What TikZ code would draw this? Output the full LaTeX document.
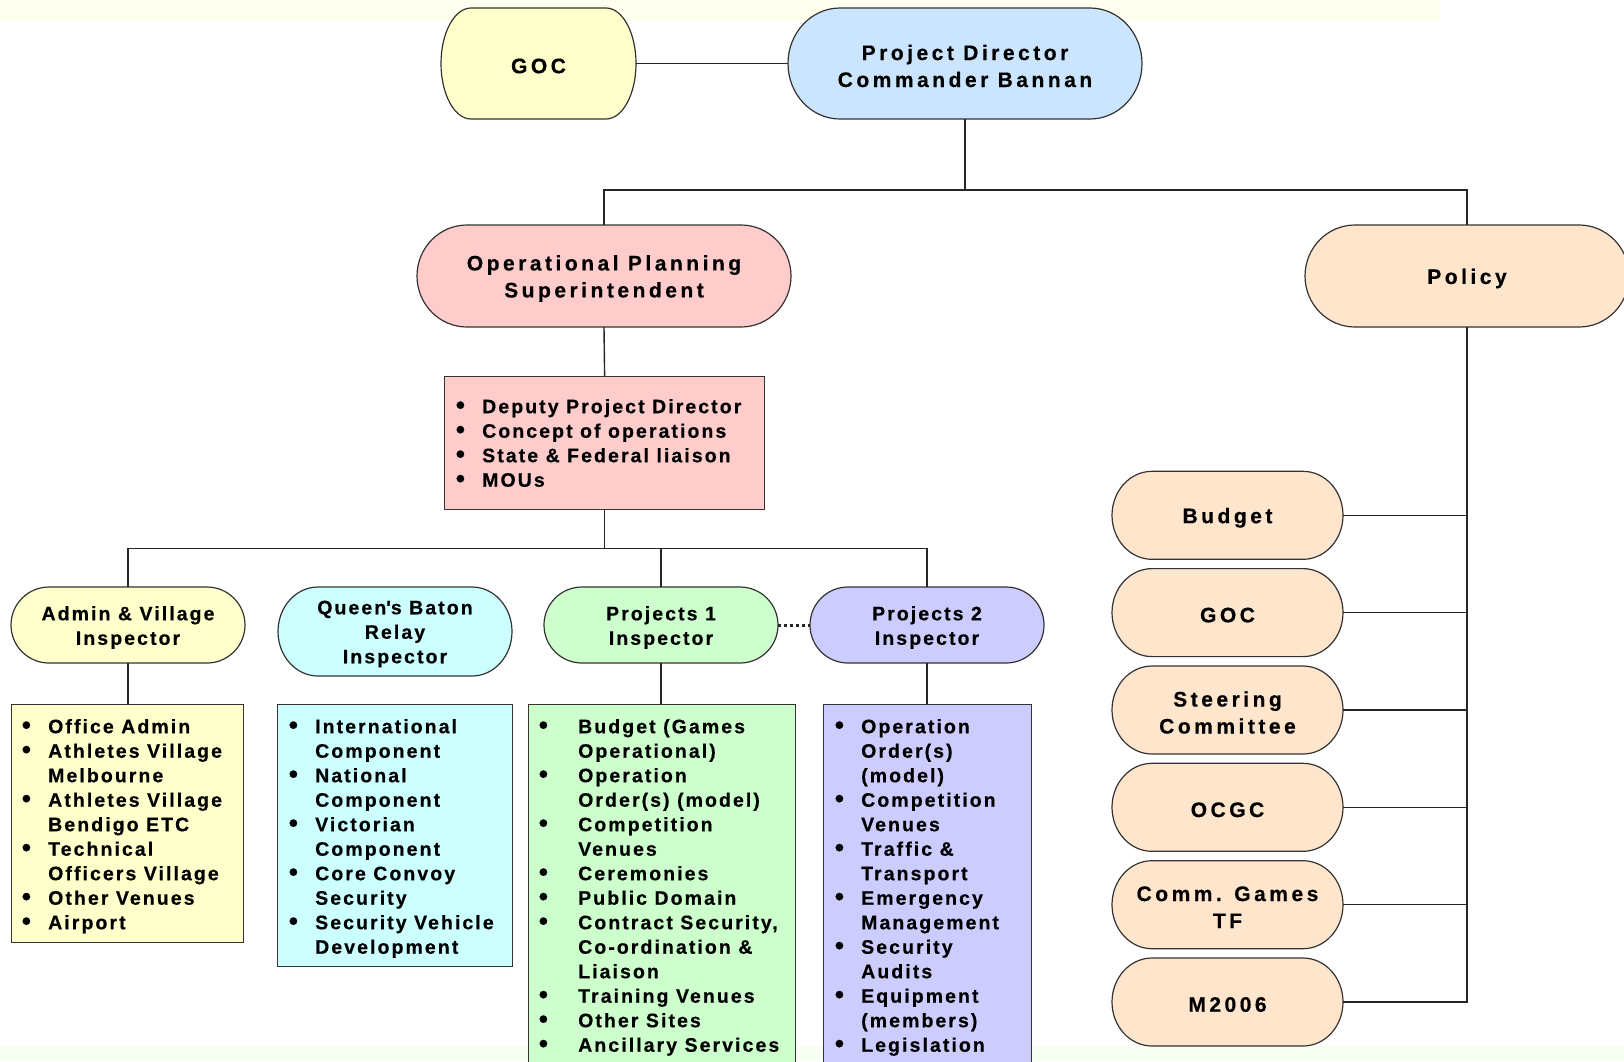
\documentclass[tikz,border=0pt]{standalone}
\usepackage{fontspec}
\usepackage{graphicx}
\setmainfont{Liberation Sans}
\newfontfamily\bigsp[LetterSpace=16.7, BoldFeatures={FakeBold=0.5}]{Liberation Sans}
\newfontfamily\smsp[LetterSpace=10.6, BoldFeatures={FakeBold=0.5}]{Liberation Sans}
\usetikzlibrary{calc}
\definecolor{cyel}{HTML}{FFFFCC}
\definecolor{cblue}{HTML}{CCE5FF}
\definecolor{cpink}{HTML}{FFCCCC}
\definecolor{cpeach}{HTML}{FFE5CC}
\definecolor{ccyan}{HTML}{CCFFFF}
\definecolor{cgreen}{HTML}{CCFFCC}
\definecolor{clav}{HTML}{CCCCFF}
\definecolor{bgtop}{HTML}{FFFFF0}
\definecolor{bgbot}{HTML}{F6FFF2}
\tikzset{
  conn/.style={line width=1.4pt, draw=black!85},
  dotconn/.style={line width=3pt, draw=black!85, dash pattern=on 3pt off 3pt},
  shapeline/.style={line width=1.2pt, draw=black!80},
  bigtxt/.style={font=\bigsp\bfseries\fontsize{21}{27}\selectfont, align=center, text=black},
  smtxt/.style={font=\smsp\bfseries\fontsize{19.5}{24.5}\selectfont, align=center, text=black},
  listtxt/.style={font=\smsp\bfseries\fontsize{19.5}{24.5}\selectfont, align=left, inner sep=0pt, anchor=north west, text=black},
  listbox/.style={draw=black!80, line width=1.2pt, anchor=north west, inner sep=0pt},
}
% #1 name, #2 cx, #3 cy, #4 w, #5 h, #6 rx, #7 fill, #8 text style, #9 text
\newcommand{\pill}[9]{%
  \filldraw[shapeline, fill=#7] (#2-#4/2+#6,#3+#5/2) -- (#2+#4/2-#6,#3+#5/2)
    arc[start angle=90, end angle=-90, x radius=#6, y radius=#5/2]
    -- (#2-#4/2+#6,#3-#5/2)
    arc[start angle=270, end angle=90, x radius=#6, y radius=#5/2] -- cycle;
  \node[minimum width=#4, minimum height=#5, inner sep=0pt] (#1) at (#2,#3) {};
  \node[#8, inner sep=0pt, yshift=-2.5pt] (#1t) at (#1.center) {#9};
}
\newcommand{\bdot}{\raisebox{-0.6pt}{\scalebox{1.35}{\textbullet}}}
\newcommand{\bl}[1]{\rule{0pt}{15pt}\makebox[#1][l]{\bdot}}
\newcommand{\bk}[1]{\makebox[#1][l]{\bdot}}
\newcommand{\cl}[1]{\hspace*{#1}}
\begin{document}
\begin{tikzpicture}[x=1pt,y=1pt]
\useasboundingbox (0,0) rectangle (1624,-1061);
\fill[white] (0,0) rectangle (1624,-1061);
\fill[bgtop] (0,0) rectangle (1440,-21);
\fill[bgbot] (0,-1046) rectangle (1624,-1061);

% top level
\pill{goc}{538.5}{-63.5}{195}{111}{30}{cyel}{bigtxt}{GOC}
\pill{pd}{965}{-63.5}{354}{111}{52}{cblue}{bigtxt}{Project Director\\Commander Bannan}
\pill{ops}{604}{-276}{374}{102}{50}{cpink}{bigtxt}{Operational Planning\\Superintendent}
\pill{policy}{1467}{-276}{324}{102}{50}{cpeach}{bigtxt}{Policy}

% deputy box
\node[listbox, fill=cpink, minimum width=320, minimum height=133] (dep) at (444,-376) {};
\node[listtxt] (deptxt) at (455.6,-398) {\bl{26.4pt}Deputy Project Director\\\bk{26.4pt}Concept of operations\\\bk{26.4pt}State \& Federal liaison\\\bk{26.4pt}MOUs};

% inspectors
\pill{admin}{128}{-625}{234}{76}{38}{cyel}{smtxt}{Admin \& Village\\Inspector}
\pill{queen}{395}{-631.5}{234}{89}{40}{ccyan}{smtxt}{Queen\textquotesingle s Baton\\Relay\\Inspector}
\pill{proj1}{661}{-625}{234}{76}{38}{cgreen}{smtxt}{Projects 1\\Inspector}
\pill{proj2}{927}{-625}{234}{76}{38}{clav}{smtxt}{Projects 2\\Inspector}

% lists
\node[listbox, fill=cyel, minimum width=232, minimum height=238] (adminbox) at (11,-704) {};
\node[listtxt] (admintxt) at (21.6,-718) {\bl{26.4pt}Office Admin\\\bk{26.4pt}Athletes Village\\\cl{26.4pt}Melbourne\\\bk{26.4pt}Athletes Village\\\cl{26.4pt}Bendigo ETC\\\bk{26.4pt}Technical\\\cl{26.4pt}Officers Village\\\bk{26.4pt}Other Venues\\\bk{26.4pt}Airport};

\node[listbox, fill=ccyan, minimum width=235, minimum height=262] (queenbox) at (277,-704) {};
\node[listtxt] (queentxt) at (288.6,-718) {\bl{26.4pt}International\\\cl{26.4pt}Component\\\bk{26.4pt}National\\\cl{26.4pt}Component\\\bk{26.4pt}Victorian\\\cl{26.4pt}Component\\\bk{26.4pt}Core Convoy\\\cl{26.4pt}Security\\\bk{26.4pt}Security Vehicle\\\cl{26.4pt}Development};

\node[listbox, fill=cgreen, minimum width=267, minimum height=400] (proj1box) at (528,-704) {};
\node[listtxt] (proj1txt) at (538.6,-718) {\bl{39.4pt}Budget (Games\\\cl{39.4pt}Operational)\\\bk{39.4pt}Operation\\\cl{39.4pt}Order(s) (model)\\\bk{39.4pt}Competition\\\cl{39.4pt}Venues\\\bk{39.4pt}Ceremonies\\\bk{39.4pt}Public Domain\\\bk{39.4pt}Contract Security,\\\cl{39.4pt}Co-ordination \&\\\cl{39.4pt}Liaison\\\bk{39.4pt}Training Venues\\\bk{39.4pt}Other Sites\\\bk{39.4pt}Ancillary Services};

\node[listbox, fill=clav, minimum width=208, minimum height=400] (proj2box) at (823,-704) {};
\node[listtxt] (proj2txt) at (834.6,-718) {\bl{26.4pt}Operation\\\cl{26.4pt}Order(s)\\\cl{26.4pt}(model)\\\bk{26.4pt}Competition\\\cl{26.4pt}Venues\\\bk{26.4pt}Traffic \&\\\cl{26.4pt}Transport\\\bk{26.4pt}Emergency\\\cl{26.4pt}Management\\\bk{26.4pt}Security\\\cl{26.4pt}Audits\\\bk{26.4pt}Equipment\\\cl{26.4pt}(members)\\\bk{26.4pt}Legislation};

% policy children
\pill{budget}{1227.5}{-515.3}{231}{88}{40}{cpeach}{bigtxt}{Budget}
\pill{goctwo}{1227.5}{-612.6}{231}{88}{40}{cpeach}{bigtxt}{GOC}
\pill{steer}{1227.5}{-710}{231}{88}{40}{cpeach}{bigtxt}{Steering\\Committee}
\pill{ocgc}{1227.5}{-807.3}{231}{88}{40}{cpeach}{bigtxt}{OCGC}
\pill{cgtf}{1227.5}{-904.7}{231}{88}{40}{cpeach}{bigtxt}{Comm. Games\\TF}
\pill{mtwo}{1227.5}{-1002}{231}{88}{40}{cpeach}{bigtxt}{M2006}

% connectors
\coordinate (topbus) at (0,-190);
\coordinate (midbus) at (0,-548.5);
\draw[conn] (goc.east) -- (pd.west);
\draw[conn] (pd.south) -- (pd.south |- topbus);
\draw[conn] (ops.north) -- (ops.north |- topbus) -- (policy.north |- topbus) -- (policy.north);
\draw[conn] (ops.south) -- (dep.north);
\draw[conn] (dep.south) -- (dep.south |- midbus);
\draw[conn] (admin.north) -- (admin.north |- midbus) -- (proj2.north |- midbus) -- (proj2.north);
\draw[conn] (proj1.north) -- (proj1.north |- midbus);
\draw[conn] (admin.south) -- (admin.south |- adminbox.north);
\draw[conn] (proj1.south) -- (proj1.south |- proj1box.north);
\draw[conn] (proj2.south) -- (proj2.south |- proj2box.north);
\draw[dotconn] (proj1.east) -- (proj2.west);
\draw[conn] (policy.south) -- (policy.south |- mtwo.east) -- (mtwo.east);
\foreach \r in {budget,goctwo,steer,ocgc,cgtf}{
  \draw[conn] (\r.east) -- (\r.east -| policy.south);
}
\end{tikzpicture}
\end{document}
